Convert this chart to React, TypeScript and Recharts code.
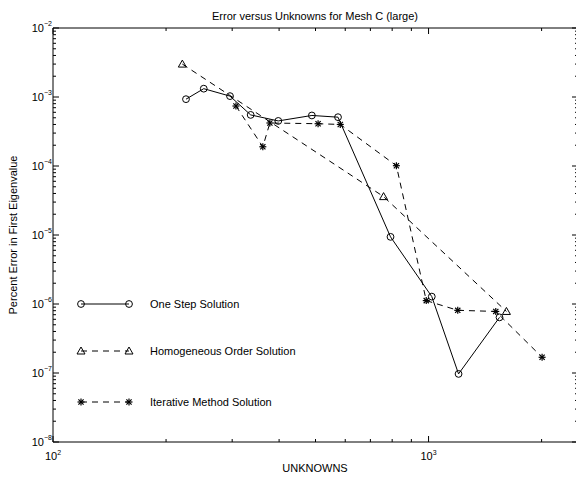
import React from 'react';
import { LineChart, Line, XAxis, YAxis } from 'recharts';

// ---- data ----
const oneStepX = [226, 252, 296, 336, 398, 489, 574, 792, 1020, 1202, 1545];
const oneStepY = [9.3e-4, 1.32e-3, 1.03e-3, 5.5e-4, 4.5e-4, 5.4e-4, 5.1e-4, 9.4e-6, 1.28e-6, 9.7e-8, 6.4e-7];
const homoX = [221, 759, 1612];
const homoY = [3.0e-3, 3.6e-5, 7.8e-7];
const iterX = [307, 362, 378, 508, 582, 821, 986, 1196, 1510, 2006];
const iterY = [7.4e-4, 1.9e-4, 4.2e-4, 4.1e-4, 4.0e-4, 1.01e-4, 1.12e-6, 8.1e-7, 7.8e-7, 1.69e-7];

const seriesNames = ['One Step Solution', 'Homogeneous Order Solution', 'Iterative Method Solution'];
const titleText = 'Error versus Unknowns for Mesh C (large)';
const xLabel = 'UNKNOWNS';
const yLabel = 'Percent Error in First Eigenvalue';

const xMajor = [100, 1000];
const xTicks = [100, 200, 300, 400, 500, 600, 700, 800, 900, 1000, 2000];
const yMajor = [1e-8, 1e-7, 1e-6, 1e-5, 1e-4, 1e-3, 1e-2];
const yMinorMult = [2, 3, 4, 5, 6, 7, 8, 9];

const yTicks: number[] = [];
yMajor.forEach((m, i) => {
  yTicks.push(m);
  if (i < yMajor.length - 1) yMinorMult.forEach((k) => yTicks.push(m * k));
});

const zip = (xs: number[], ys: number[]) => xs.map((x, i) => ({ x, y: ys[i] }));
const oneStepData = zip(oneStepX, oneStepY);
const homoData = zip(homoX, homoY);
const iterData = zip(iterX, iterY);

const FONT = '"Liberation Sans", Arial, Helvetica, sans-serif';
const DASH = '6 5';

const isMajorVal = (v: number, majors: number[]) => majors.some((m) => Math.abs(v - m) / m < 1e-6);
const expOf = (v: number) => Math.round(Math.log10(v));

// ---- markers ----
const CircleMark = ({ cx, cy }: any) => (
  <circle cx={cx} cy={cy} r={3.4} fill="none" stroke="#000" strokeWidth={1} />
);
const TriMark = ({ cx, cy }: any) => (
  <polygon
    points={`${cx - 4},${cy + 3} ${cx + 4},${cy + 3} ${cx},${cy - 4}`}
    fill="none"
    stroke="#000"
    strokeWidth={1}
  />
);
const StarMark = ({ cx, cy }: any) => (
  <g stroke="#000" strokeWidth={1.2}>
    <line x1={cx - 3.5} y1={cy} x2={cx + 3.5} y2={cy} />
    <line x1={cx} y1={cy - 3.5} x2={cx} y2={cy + 3.5} />
    <line x1={cx - 2.6} y1={cy - 2.6} x2={cx + 2.6} y2={cy + 2.6} />
    <line x1={cx - 2.6} y1={cy + 2.6} x2={cx + 2.6} y2={cy - 2.6} />
  </g>
);

// ---- ticks ----
const BottomTick = (props: any) => {
  const { x, y, payload } = props;
  const v = payload.value;
  const major = isMajorVal(v, xMajor);
  return (
    <g>
      <line x1={x} x2={x} y1={y} y2={y - (major ? 6 : 3)} stroke="#000" strokeWidth={1} />
      {major && (
        <text x={x} y={y + 18} textAnchor="middle" fontFamily={FONT} fontSize={11} fill="#000">
          10<tspan dy={-5} fontSize={7}>{expOf(v)}</tspan>
        </text>
      )}
    </g>
  );
};
const TopTick = (props: any) => {
  const { x, y, payload } = props;
  const major = isMajorVal(payload.value, xMajor);
  return <line x1={x} x2={x} y1={y} y2={y + (major ? 6 : 3)} stroke="#000" strokeWidth={1} />;
};
const LeftTick = (props: any) => {
  const { x, y, payload } = props;
  const v = payload.value;
  const major = isMajorVal(v, yMajor);
  return (
    <g>
      <line x1={x} x2={x + (major ? 6 : 3)} y1={y} y2={y} stroke="#000" strokeWidth={1} />
      {major && (
        <text x={x - 9} y={y + 4} textAnchor="end" fontFamily={FONT} fontSize={11} fill="#000">
          10
        </text>
      )}
      {major && (
        <text x={x - 9} y={y - 2} textAnchor="start" fontFamily={FONT} fontSize={7} fill="#000">
          {expOf(v) < 0 ? '\u2212' + Math.abs(expOf(v)) : expOf(v)}
        </text>
      )}
    </g>
  );
};
const RightTick = (props: any) => {
  const { x, y, payload } = props;
  const major = isMajorVal(payload.value, yMajor);
  return <line x1={x} x2={x - (major ? 6 : 3)} y1={y} y2={y} stroke="#000" strokeWidth={1} />;
};

const LegendRow = ({ top, kind, label }: { top: number; kind: number; label: string }) => {
  const M = kind === 0 ? CircleMark : kind === 1 ? TriMark : StarMark;
  return (
    <g>
      <line
        x1={81}
        x2={129}
        y1={top}
        y2={top}
        stroke="#000"
        strokeWidth={1}
        strokeDasharray={kind === 0 ? undefined : DASH}
      />
      <M cx={81} cy={top} />
      <M cx={129} cy={top} />
      <text x={150} y={top + 4} fontFamily={FONT} fontSize={11} fill="#000">
        {label}
      </text>
    </g>
  );
};

const axisCommonX = {
  type: 'number' as const,
  dataKey: 'x',
  scale: 'log' as const,
  domain: [100, 2500],
  allowDataOverflow: true,
  ticks: xTicks,
  interval: 0 as const,
  tickSize: 0,
  tickMargin: 0,
  tickLine: false,
  height: 1,
  axisLine: { stroke: '#000', strokeWidth: 1 },
};
const axisCommonY = {
  type: 'number' as const,
  dataKey: 'y',
  scale: 'log' as const,
  domain: [1e-8, 1e-2],
  allowDataOverflow: true,
  ticks: yTicks,
  interval: 0 as const,
  tickSize: 0,
  tickMargin: 0,
  tickLine: false,
  width: 1,
  axisLine: { stroke: '#000', strokeWidth: 1 },
};

export default function App() {
  return (
    <div
      style={{
        position: 'absolute',
        left: 0,
        top: 0,
        width: 576,
        height: 477,
        overflow: 'hidden',
        background: '#fff',
      }}
    >
      <LineChart width={580} height={477} margin={{ top: 27, right: 1, bottom: 34, left: 52 }}>
        <XAxis xAxisId={0} {...axisCommonX} tick={<BottomTick />} />
        <XAxis xAxisId="top" orientation="top" {...axisCommonX} tick={<TopTick />} />
        <YAxis yAxisId={0} {...axisCommonY} tick={<LeftTick />} />
        <YAxis yAxisId="right" orientation="right" {...axisCommonY} tick={<RightTick />} />
        <Line
          data={homoData}
          dataKey="y"
          stroke="#000"
          strokeWidth={1}
          strokeDasharray={DASH}
          dot={<TriMark />}
          activeDot={false}
          isAnimationActive={false}
        />
        <Line
          data={iterData}
          dataKey="y"
          stroke="#000"
          strokeWidth={1}
          strokeDasharray={DASH}
          dot={<StarMark />}
          activeDot={false}
          isAnimationActive={false}
        />
        <Line
          data={oneStepData}
          dataKey="y"
          stroke="#000"
          strokeWidth={1}
          dot={<CircleMark />}
          activeDot={false}
          isAnimationActive={false}
        />
      </LineChart>
      <svg
        width={576}
        height={477}
        style={{ position: 'absolute', left: 0, top: 0, pointerEvents: 'none' }}
      >
        <text x={315} y={20} textAnchor="middle" fontFamily={FONT} fontSize={11} fill="#000">
          {titleText}
        </text>
        <text x={315} y={472} textAnchor="middle" fontFamily={FONT} fontSize={11} fill="#000">
          {xLabel}
        </text>
        <text
          x={0}
          y={0}
          transform="translate(17,235) rotate(-90)"
          textAnchor="middle"
          fontFamily={FONT}
          fontSize={11}
          fill="#000"
        >
          {yLabel}
        </text>
        <LegendRow top={304} kind={0} label={seriesNames[0]} />
        <LegendRow top={351} kind={1} label={seriesNames[1]} />
        <LegendRow top={402} kind={2} label={seriesNames[2]} />
      </svg>
    </div>
  );
}
